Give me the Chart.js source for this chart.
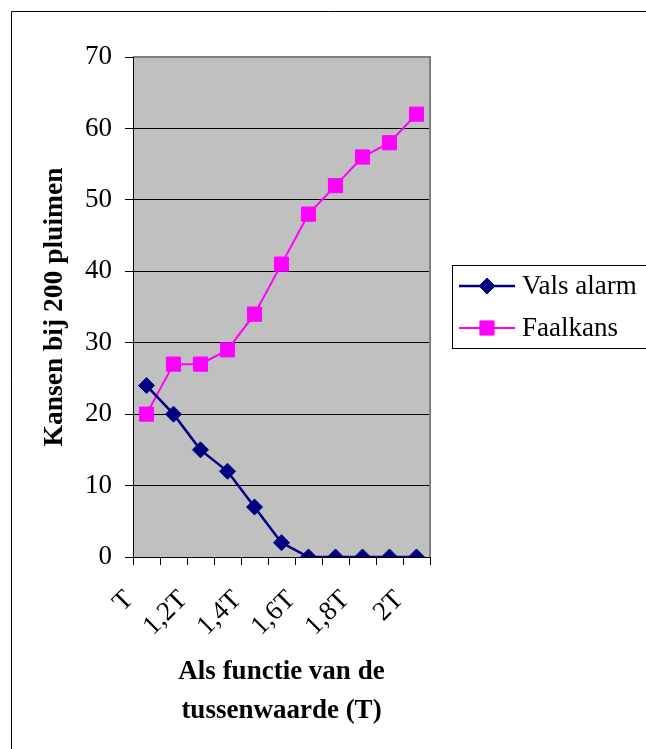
<!DOCTYPE html>
<html>
<head>
<meta charset="utf-8">
<script src="https://cdn.jsdelivr.net/npm/chart.js@4.4.1/dist/chart.umd.min.js"></script>
<style>
html,body{margin:0;padding:0;background:#fff;}
canvas{display:block;}
</style>
</head>
<body>
<canvas id="c" width="646" height="749"></canvas>
<script>
const categories = ['T','1,1T','1,2T','1,3T','1,4T','1,5T','1,6T','1,7T','1,8T','1,9T','2T'];
const valsAlarm = [24, 20, 15, 12, 7, 2, 0, 0, 0, 0, 0];
const faalkans = [20, 27, 27, 29, 34, 41, 48, 52, 56, 58, 62];
const yTicks = [0, 10, 20, 30, 40, 50, 60, 70];
const seriesNames = ['Vals alarm', 'Faalkans'];
const yTitle = 'Kansen bij 200 pluimen';
const xTitle = ['Als functie van de', 'tussenwaarde (T)'];

const FONT = "'Liberation Serif', 'Times New Roman', serif";

const framePlugin = {
  id: 'frame',
  beforeDraw(chart) {
    const {ctx, chartArea: a} = chart;
    ctx.save();
    ctx.fillStyle = '#fff';
    ctx.fillRect(0, 0, chart.width, chart.height);
    ctx.strokeStyle = '#000';
    ctx.lineWidth = 1;
    ctx.beginPath();
    ctx.moveTo(11.5, chart.height);
    ctx.lineTo(11.5, 11.5);
    ctx.lineTo(chart.width, 11.5);
    ctx.stroke();
    ctx.fillStyle = '#C0C0C0';
    ctx.fillRect(a.left, a.top, a.right - a.left, a.bottom - a.top);
    ctx.restore();
  },
  beforeDatasetsDraw(chart) {
    const {ctx, chartArea: a} = chart;
    ctx.save();
    ctx.lineWidth = 2;
    ctx.strokeStyle = '#808080';
    ctx.beginPath();
    ctx.moveTo(a.left, a.top);
    ctx.lineTo(a.right, a.top);
    ctx.lineTo(a.right, a.bottom);
    ctx.stroke();
    ctx.strokeStyle = '#000';
    ctx.lineWidth = 1;
    ctx.beginPath();
    ctx.moveTo(a.left + 0.5, a.top);
    ctx.lineTo(a.left + 0.5, a.bottom + 0.5);
    ctx.lineTo(a.right, a.bottom + 0.5);
    ctx.stroke();
    ctx.restore();
  },
  afterDraw(chart) {
    const ctx = chart.ctx;
    const bx = 452.5, by = 265.5, bw = 300, bh = 83;
    ctx.save();
    ctx.fillStyle = '#fff';
    ctx.fillRect(bx, by, bw, bh);
    ctx.strokeStyle = '#000';
    ctx.lineWidth = 1;
    ctx.strokeRect(bx, by, bw, bh);
    const rows = [286, 328];
    chart.data.datasets.forEach((ds, i) => {
      const y = rows[i];
      ctx.strokeStyle = ds.borderColor;
      ctx.lineWidth = ds.borderWidth;
      ctx.beginPath();
      ctx.moveTo(459, y);
      ctx.lineTo(515, y);
      ctx.stroke();
      ctx.fillStyle = ds.pointBackgroundColor;
      ctx.strokeStyle = ds.pointBorderColor;
      ctx.lineWidth = 1;
      Chart.helpers.drawPoint(ctx, {pointStyle: ds.pointStyle, radius: ds.pointRadius, rotation: 0, borderWidth: 1}, 487, y);
      ctx.fillStyle = '#000';
      ctx.font = '27px ' + FONT;
      ctx.textAlign = 'left';
      ctx.textBaseline = 'middle';
      ctx.fillText(ds.label, 522, y + 1);
    });
    ctx.restore();
  }
};

new Chart(document.getElementById('c'), {
  type: 'line',
  data: {
    labels: categories,
    datasets: [
      {
        label: seriesNames[0],
        data: valsAlarm,
        borderColor: '#000080',
        backgroundColor: '#000080',
        pointBackgroundColor: '#000080',
        pointBorderColor: '#000080',
        pointStyle: 'rectRot',
        pointRadius: 8,
        borderWidth: 2.5,
        pointBorderWidth: 1,
        tension: 0,
        fill: false
      },
      {
        label: seriesNames[1],
        data: faalkans,
        borderColor: '#FF00FF',
        backgroundColor: '#FF00FF',
        pointBackgroundColor: '#FF00FF',
        pointBorderColor: '#FF00FF',
        pointStyle: 'rect',
        pointRadius: 10,
        borderWidth: 2,
        pointBorderWidth: 1,
        tension: 0,
        fill: false
      }
    ]
  },
  options: {
    responsive: false,
    animation: false,
    devicePixelRatio: 1,
    layout: { padding: { left: 0, top: 57, right: 216, bottom: 0 } },
    plugins: {
      legend: { display: false },
      tooltip: { enabled: false }
    },
    scales: {
      x: {
        type: 'category',
        offset: true,
        afterFit(scale) { scale.height = 192; },
        grid: {
          offset: true,
          drawOnChartArea: false,
          drawTicks: true,
          tickLength: 8,
          color: '#000',
          lineWidth: 1
        },
        border: { display: false },
        ticks: {
          autoSkip: false,
          maxRotation: 45,
          minRotation: 45,
          padding: 19,
          labelOffset: -17,
          color: '#000',
          font: { family: FONT, size: 27 },
          callback(value, index) { return index % 2 === 0 ? categories[index] : ''; }
        },
        title: {
          display: true,
          text: xTitle,
          color: '#000',
          font: { family: FONT, size: 27, weight: 'bold', lineHeight: 1.444 },
          padding: { top: 0, bottom: 18 }
        }
      },
      y: {
        min: 0,
        max: 70,
        afterFit(scale) { scale.width = 133; },
        afterBuildTicks(scale) { scale.ticks = yTicks.map(v => ({ value: v })); },
        grid: {
          drawOnChartArea: true,
          drawTicks: true,
          tickLength: 8,
          color: '#000',
          lineWidth: 1
        },
        border: { display: false },
        ticks: {
          padding: 13,
          color: '#000',
          font: { family: FONT, size: 27 }
        },
        title: {
          display: true,
          text: yTitle,
          color: '#000',
          font: { family: FONT, size: 27.5, weight: 'bold', lineHeight: 1.2 },
          padding: { top: 38, bottom: 0 }
        }
      }
    }
  },
  plugins: [framePlugin]
});
</script>
</body>
</html>
